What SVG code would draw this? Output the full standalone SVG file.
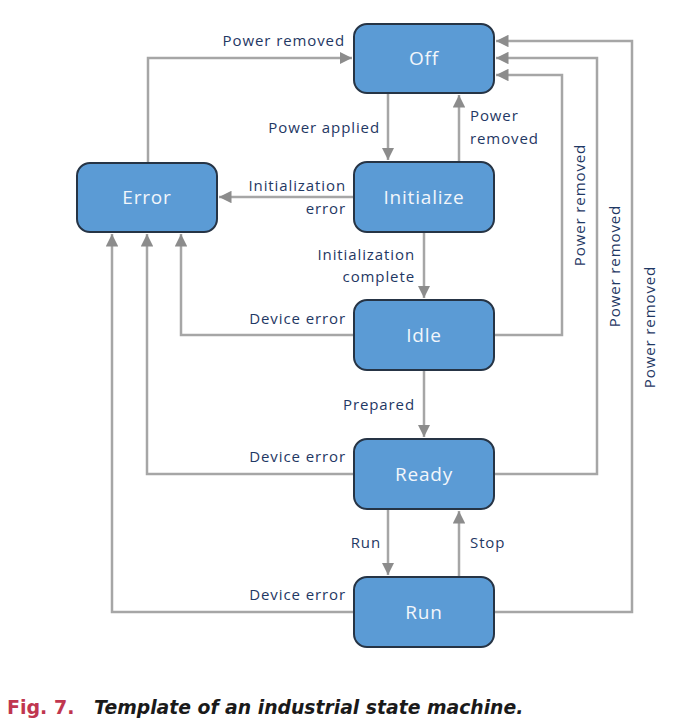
<svg xmlns="http://www.w3.org/2000/svg" width="676" height="725" viewBox="0 0 676 725">
<defs>
<marker id="ah" viewBox="0 0 10 10" refX="10" refY="5" markerWidth="5" markerHeight="5" markerUnits="strokeWidth" orient="auto">
<path d="M0,0 L10,5 L0,10 z" fill="#8c8c8c"/>
</marker>
<style>
.node rect{fill:#5b9bd5;stroke:#263445;stroke-width:2}
.node text{font-family:"Open Sans","DejaVu Sans",sans-serif;font-size:19px;letter-spacing:0.8px;fill:#f2f6fb;text-anchor:middle;dominant-baseline:central}
.c path{fill:none;stroke:#a6a6a6;stroke-width:2.5;marker-end:url(#ah)}
.lbl{font-family:"Open Sans","DejaVu Sans",sans-serif;font-size:15px;letter-spacing:0.9px;fill:#1f3864}
.e{text-anchor:end}
</style>
</defs>
<rect width="676" height="725" fill="#fff"/>
<g class="c" id="connectors">
<path d="M148,163 V58 H352"/>
<path d="M388,93 V160"/>
<path d="M459,162 V95"/>
<path d="M354,197 H219"/>
<path d="M424,232 V298"/>
<path d="M354,335 H181 V234"/>
<path d="M424,370 V437"/>
<path d="M354,474 H147 V234"/>
<path d="M388,509 V575"/>
<path d="M459,577 V511"/>
<path d="M354,612 H112 V234"/>
<path d="M494,335 H562 V75 H496"/>
<path d="M494,474 H597 V58 H496"/>
<path d="M494,612 H632 V41 H496"/>
</g>
<g class="node" id="off"><rect x="354" y="24" width="140" height="69" rx="13"/><text x="424" y="58">Off</text></g>
<g class="node" id="error"><rect x="77" y="163" width="140" height="69" rx="13"/><text x="147" y="197">Error</text></g>
<g class="node" id="initialize"><rect x="354" y="162" width="140" height="70" rx="13"/><text x="424" y="197">Initialize</text></g>
<g class="node" id="idle"><rect x="354" y="300" width="140" height="70" rx="13"/><text x="424" y="335">Idle</text></g>
<g class="node" id="ready"><rect x="354" y="439" width="140" height="70" rx="13"/><text x="424" y="474">Ready</text></g>
<g class="node" id="run"><rect x="354" y="577" width="140" height="70" rx="13"/><text x="424" y="612">Run</text></g>
<g id="labels">
<text class="lbl e" x="345" y="46">Power removed</text>
<text class="lbl e" x="380" y="133">Power applied</text>
<text class="lbl" x="470" y="121">Power</text>
<text class="lbl" x="470" y="144">removed</text>
<text class="lbl e" x="346" y="191">Initialization</text>
<text class="lbl e" x="346" y="214">error</text>
<text class="lbl e" x="415" y="260">Initialization</text>
<text class="lbl e" x="415" y="282">complete</text>
<text class="lbl e" x="346" y="324">Device error</text>
<text class="lbl e" x="415" y="410">Prepared</text>
<text class="lbl e" x="346" y="462">Device error</text>
<text class="lbl e" x="381" y="548">Run</text>
<text class="lbl" x="470" y="548">Stop</text>
<text class="lbl e" x="346" y="600">Device error</text>
<text class="lbl" text-anchor="middle" transform="translate(585,205) rotate(-90)">Power removed</text>
<text class="lbl" text-anchor="middle" transform="translate(620,266) rotate(-90)">Power removed</text>
<text class="lbl" text-anchor="middle" transform="translate(655,327) rotate(-90)">Power removed</text>
</g>
<text x="7" y="714" font-family="DejaVu Sans,sans-serif" font-size="19" font-weight="bold" fill="#c0364f">Fig. 7.</text>
<text x="94" y="714" font-family="DejaVu Sans,sans-serif" font-size="18.8" font-weight="bold" font-style="italic" fill="#1a1a1a">Template of an industrial state machine.</text>
</svg>
